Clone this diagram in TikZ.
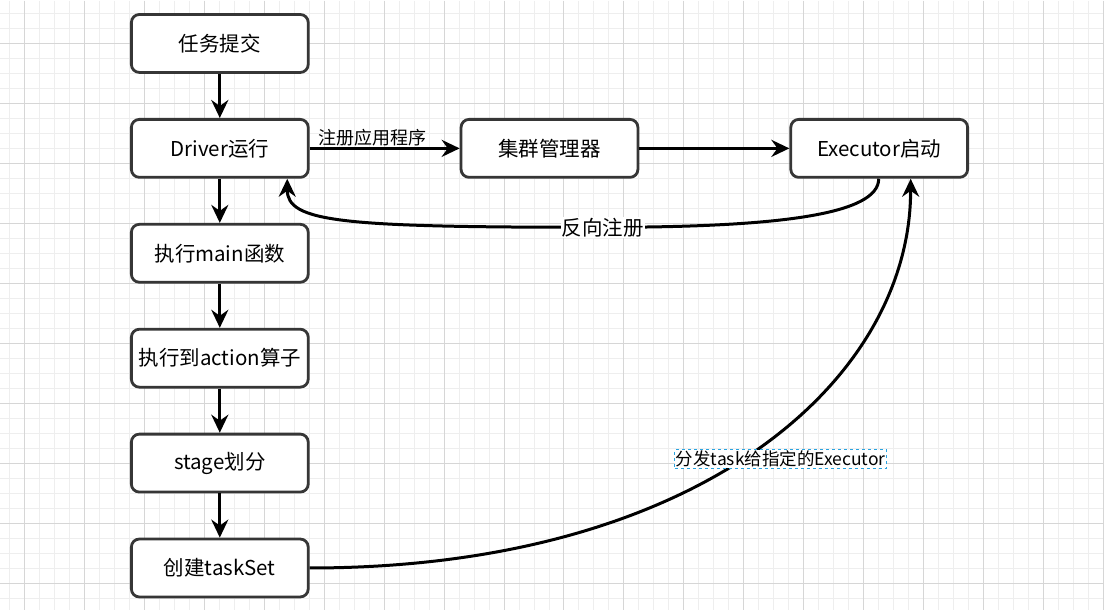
\documentclass[tikz,border=0pt]{standalone}
\usepackage{fontspec}
\setmainfont{Noto Sans CJK SC}
\usetikzlibrary{arrows.meta,positioning}
\definecolor{border}{HTML}{363636}
\definecolor{gridmajor}{HTML}{D6D6D6}
\definecolor{gridminor}{HTML}{EEEEEE}
\definecolor{selblue}{HTML}{29A3E0}

\begin{document}
\begin{tikzpicture}[x=1pt,y=-1pt,
  box/.style={draw=border,fill=white,rounded corners=8pt,line width=2.8pt,minimum width=177pt,minimum height=58pt,align=center,font=\fontsize{20.5}{24}\selectfont},
  arr/.style={-{Stealth[length=18pt,width=17pt,inset=6pt]},line width=3pt},
  lab/.style={font=\fontsize{18}{21}\selectfont,inner sep=1pt},
  revlab/.style={fill=white,font=\fontsize{20.5}{24}\selectfont,inner sep=1pt},
  sellab/.style={fill=white,draw=selblue,dashed,line width=1pt,font=\fontsize{17.5}{20}\selectfont,inner sep=1pt}
]
% canvas and grid
\fill[white] (0,0) rectangle (1104,610);
\foreach \gx in {9,24,...,1104} \draw[gridminor,line width=1pt] (\gx,0) -- (\gx,610);
\foreach \gy in {13.3,28.3,...,610} \draw[gridminor,line width=1pt] (0,\gy) -- (1104,\gy);
\foreach \gx in {24,84,...,1104} \draw[gridmajor,line width=1pt] (\gx,0) -- (\gx,610);
\foreach \gy in {43.3,103.3,...,610} \draw[gridmajor,line width=1pt] (0,\gy) -- (1104,\gy);
\useasboundingbox (0,0) rectangle (1104,610);

% left column
\node[box] (submit) at (219.5,43) {任务提交};
\node[box,below=44.2pt of submit] (driver) {Driver运行};
\node[box,below=44.2pt of driver] (mainfn) {执行main函数};
\node[box,below=44.2pt of mainfn] (action) {执行到action算子};
\node[box,below=44.2pt of action] (stage) {stage划分};
\node[box,below=44.2pt of stage] (taskset) {创建taskSet};

% top row
\node[box,right=150.2pt of driver] (cluster) {集群管理器};
\node[box,right=150.2pt of cluster] (executor) {Executor启动};

\draw[arr] (submit) -- (driver);
\draw[arr] (driver) -- (mainfn);
\draw[arr] (mainfn) -- (action);
\draw[arr] (action) -- (stage);
\draw[arr] (stage) -- (taskset);

\draw[arr] (driver) -- node[lab,pos=0.42,above] (reglbl) {注册应用程序} (cluster);
\draw[arr] (cluster) -- (executor);

% reverse registration
\draw[arr] ([xshift=-0.5pt]executor.south) .. controls (879,214) and (780,227) .. (603,227)
  node[revlab] (revlbl) {反向注册}
  .. controls (340,227) and (287,222) .. ([xshift=67.5pt]driver.south);

% dispatch tasks
\draw[arr] (taskset.east) .. controls (700,568) and (911,380) .. ([xshift=31.5pt]executor.south);
\node[sellab] (dispatchlbl) at (781,459) {分发task给指定的Executor};
\end{tikzpicture}
\end{document}
